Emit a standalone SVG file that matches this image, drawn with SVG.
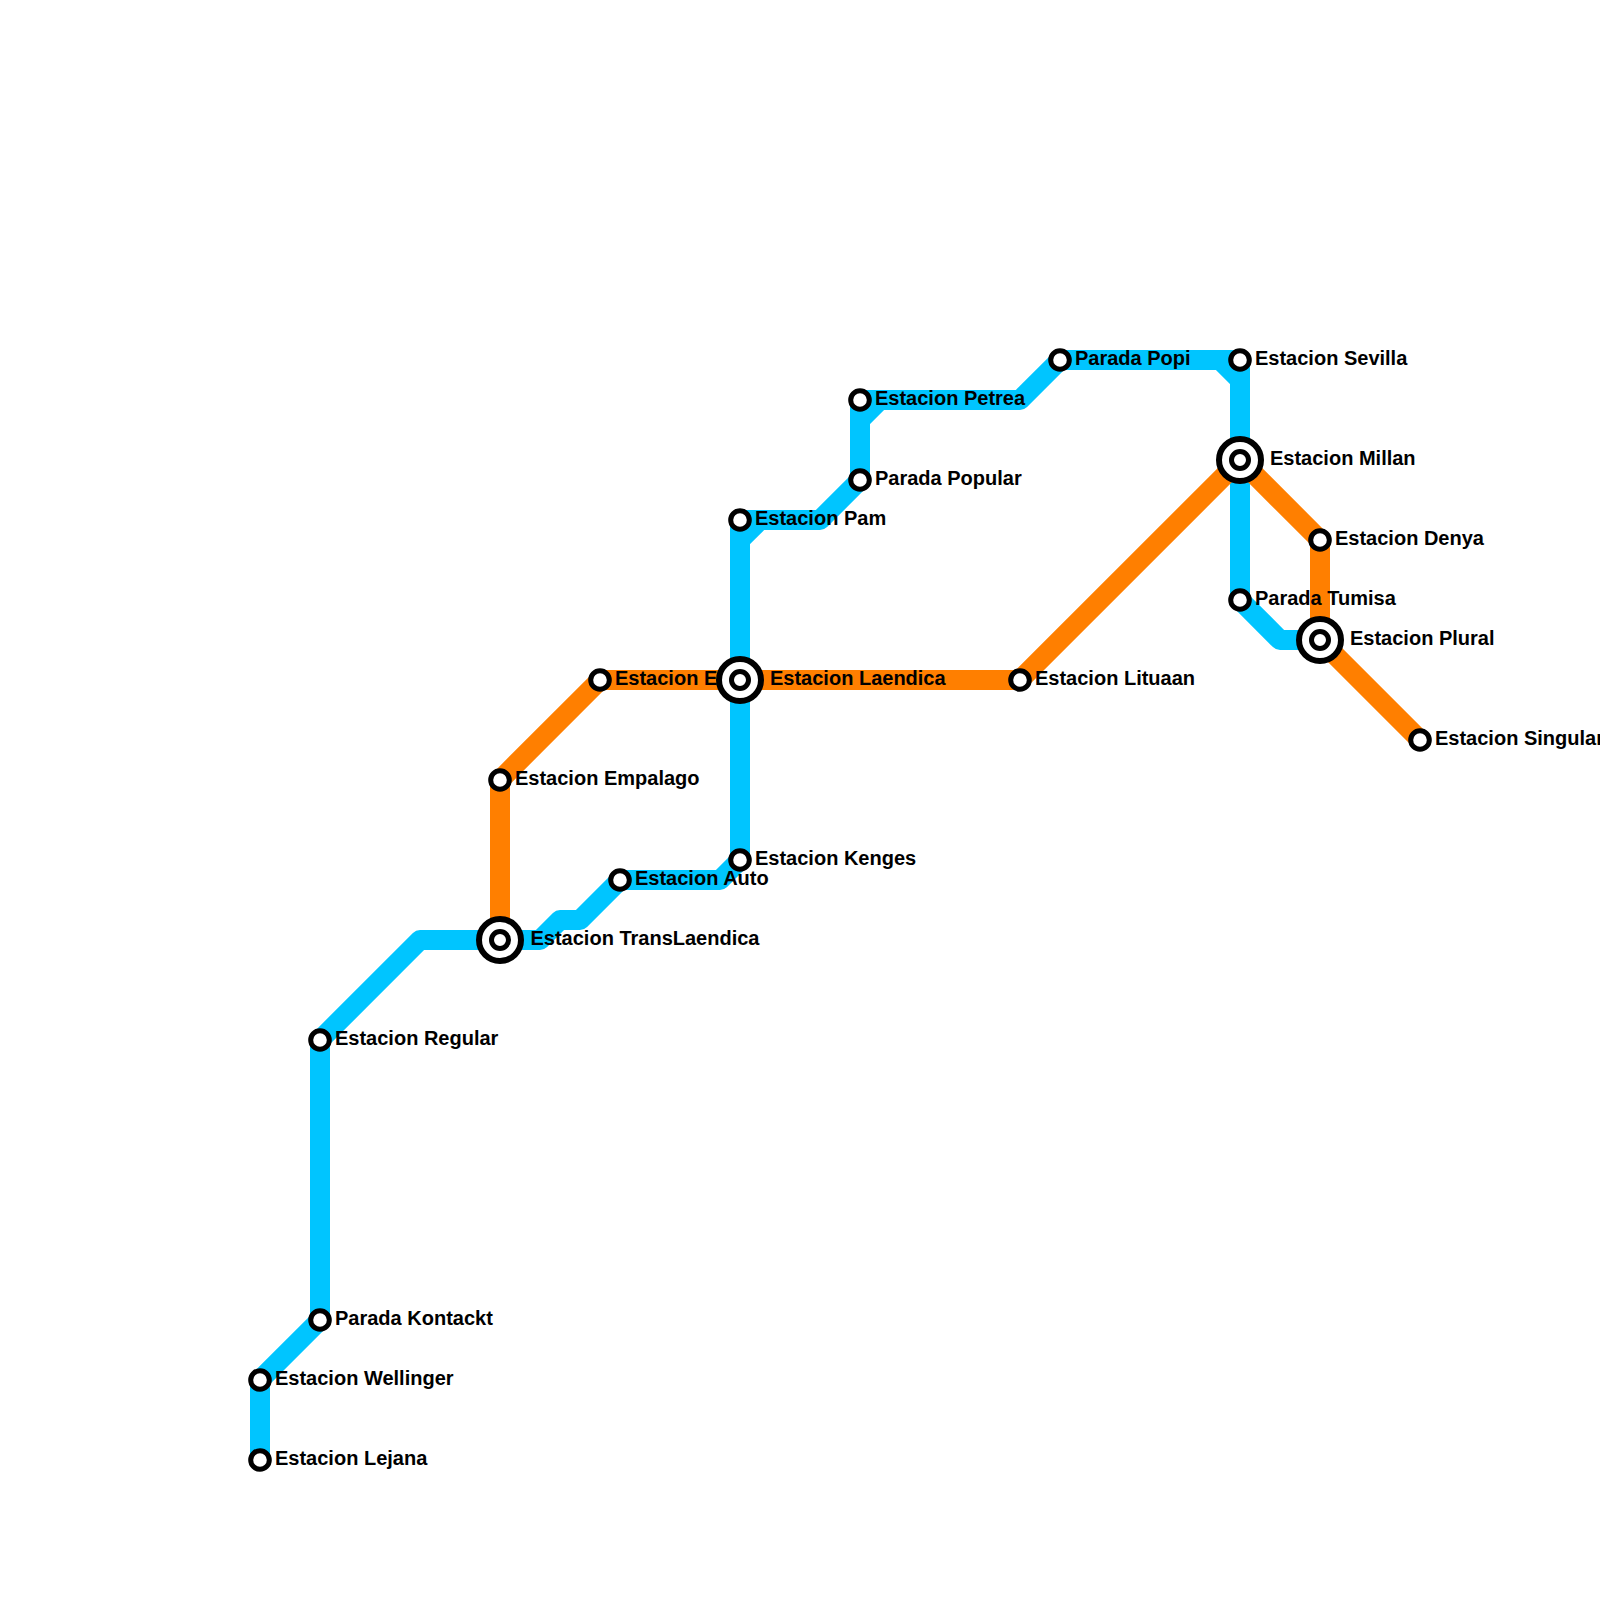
<svg xmlns="http://www.w3.org/2000/svg" width="1600" height="1600" viewBox="0 0 1600 1600">
<defs>
<style>
.line{fill:none;stroke-width:20;stroke-linejoin:round}
.blue{stroke:#00c5ff}
.orange{stroke:#ff7f00}
.st{fill:#fff;stroke:#000;stroke-width:5}
.ring{fill:#fff;stroke:#000;stroke-width:6}
text{font-family:"Liberation Sans",Arial,sans-serif;font-size:20px;font-weight:700;fill:#000}
</style>
<g id="stn"><circle class="st" r="9.3"/></g>
<g id="hub"><circle class="ring" r="21"/><circle class="st" r="8.5"/></g>
</defs>
<rect width="1600" height="1600" fill="#fff"/>
<g id="connectors">
<path class="line blue" d="M260 1460V1380L320 1320V1040L420 940H540L560 920H580L620 880H720L740 860V540L760 520H820L860 480V420L880 400H1020L1060 360H1220L1240 380V600L1280 640H1320"/>
<path class="line blue" d="M740 560V520H770M860 440V400H890M1220 360H1240V380"/>
<path class="line orange" d="M500 940V780L600 680H1020L1240 460L1320 540V640L1420 740"/>
</g>
<g id="n-lejana"><use href="#stn" x="260" y="1460"/><text x="275" y="1465">Estacion Lejana</text></g>
<g id="n-wellinger"><use href="#stn" x="260" y="1380"/><text x="275" y="1385">Estacion Wellinger</text></g>
<g id="n-kontackt"><use href="#stn" x="320" y="1320"/><text x="335" y="1325">Parada Kontackt</text></g>
<g id="n-regular"><use href="#stn" x="320" y="1040"/><text x="335" y="1045">Estacion Regular</text></g>
<g id="n-translaendica"><use href="#hub" x="500" y="940"/><text x="530.5" y="945">Estacion TransLaendica</text></g>
<g id="n-auto"><use href="#stn" x="620" y="880"/><text x="635" y="885">Estacion Auto</text></g>
<g id="n-kenges"><use href="#stn" x="740" y="860"/><text x="755" y="865">Estacion Kenges</text></g>
<g id="n-empalago"><use href="#stn" x="500" y="780"/><text x="515" y="785">Estacion Empalago</text></g>
<g id="n-e"><use href="#stn" x="600" y="680"/><text x="615" y="685">Estacion E</text></g>
<g id="n-laendica"><use href="#hub" x="740" y="680"/><text x="770" y="685">Estacion Laendica</text></g>
<g id="n-lituaan"><use href="#stn" x="1020" y="680"/><text x="1035" y="685">Estacion Lituaan</text></g>
<g id="n-pam"><use href="#stn" x="740" y="520"/><text x="755" y="525">Estacion Pam</text></g>
<g id="n-popular"><use href="#stn" x="860" y="480"/><text x="875" y="485">Parada Popular</text></g>
<g id="n-petrea"><use href="#stn" x="860" y="400"/><text x="875" y="405">Estacion Petrea</text></g>
<g id="n-popi"><use href="#stn" x="1060" y="360"/><text x="1075" y="365">Parada Popi</text></g>
<g id="n-sevilla"><use href="#stn" x="1240" y="360"/><text x="1255" y="365">Estacion Sevilla</text></g>
<g id="n-millan"><use href="#hub" x="1240" y="460"/><text x="1270" y="465">Estacion Millan</text></g>
<g id="n-tumisa"><use href="#stn" x="1240" y="600"/><text x="1255" y="605">Parada Tumisa</text></g>
<g id="n-denya"><use href="#stn" x="1320" y="540"/><text x="1335" y="545">Estacion Denya</text></g>
<g id="n-plural"><use href="#hub" x="1320" y="640"/><text x="1350" y="645">Estacion Plural</text></g>
<g id="n-singular"><use href="#stn" x="1420" y="740"/><text x="1435" y="745">Estacion Singular</text></g>
</svg>
